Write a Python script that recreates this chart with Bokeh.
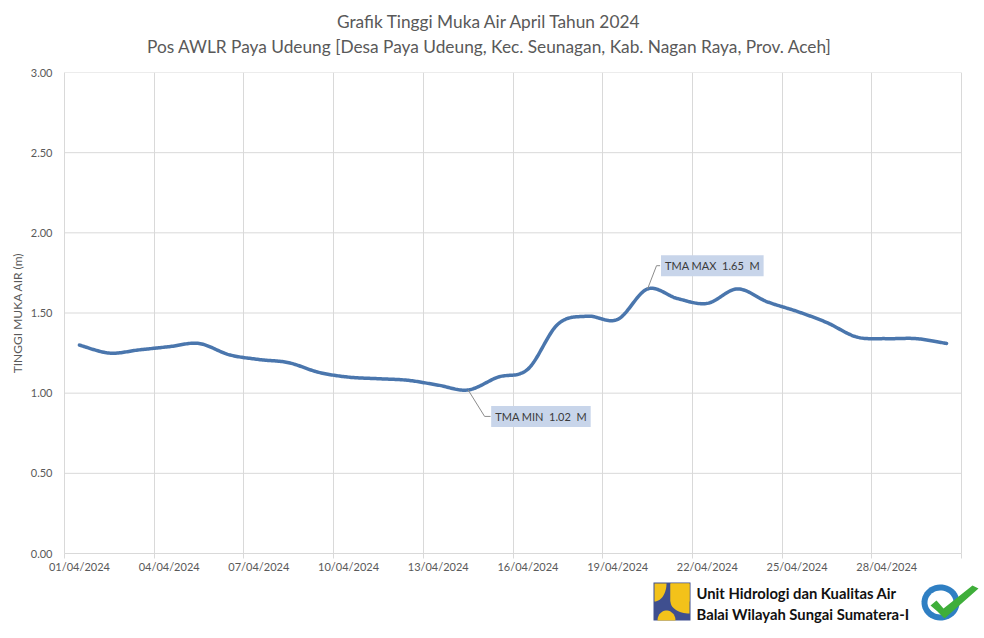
from bokeh.plotting import figure
from bokeh.layouts import column
from bokeh.models import (Range1d, FixedTicker, LinearAxis, NumeralTickFormatter, Label)
from bokeh.core.properties import value
from bokeh.embed import file_html
from bokeh.resources import INLINE
import numpy as np

# ---------------- data ----------------
dates = ["%02d/04/2024" % d for d in range(1, 31)]
values = [1.30, 1.25, 1.27, 1.29, 1.31, 1.24, 1.21, 1.19, 1.13, 1.10,
          1.09, 1.08, 1.05, 1.02, 1.10, 1.15, 1.43, 1.48, 1.46, 1.65,
          1.59, 1.56, 1.65, 1.57, 1.51, 1.44, 1.35, 1.34, 1.34, 1.31]
y_ticks = [0.0, 0.5, 1.0, 1.5, 2.0, 2.5, 3.0]
title1 = "Grafik Tinggi Muka Air April Tahun 2024"
title2 = "Pos AWLR Paya Udeung [Desa Paya Udeung, Kec. Seunagan, Kab. Nagan Raya, Prov. Aceh]"
y_label = "TINGGI MUKA AIR (m)"
footer1 = "Unit Hidrologi dan Kualitas Air"
footer2 = "Balai Wilayah Sungai Sumatera-I"

FONT = "Lato"
GRAY = "#595959"
GRID = "#d9d9d9"
LINE = "#4a76ad"
NB = "\u00a0"

W = 983
LEFT = 64            # frame left edge (px)
PLOT_W = 897         # width covered by the 30 days (px)
HEAD_H, MAIN_H, FOOT_H = 60, 520, 57

n = len(values)
xs = np.arange(n) + 0.5
ys = np.array(values)
x_end = n * (W - LEFT) / PLOT_W   # frame runs to the right edge; days occupy [0, n]

# Excel-like smoothed line (Catmull-Rom -> cubic Bezier)
px = np.concatenate([[xs[0]], xs, [xs[-1]]])
py = np.concatenate([[ys[0]], ys, [ys[-1]]])
sx, sy = [], []
t = np.linspace(0, 1, 24)
for i in range(1, n):
    p0 = np.array([px[i], py[i]]); p3 = np.array([px[i + 1], py[i + 1]])
    p1 = p0 + (np.array([px[i + 1], py[i + 1]]) - np.array([px[i - 1], py[i - 1]])) / 6
    p2 = p3 - (np.array([px[i + 2], py[i + 2]]) - np.array([px[i], py[i]])) / 6
    b = ((1 - t) ** 3)[:, None] * p0 + (3 * (1 - t) ** 2 * t)[:, None] * p1 + \
        (3 * (1 - t) * t ** 2)[:, None] * p2 + (t ** 3)[:, None] * p3
    if i > 1:
        b = b[1:]
    sx.extend(b[:, 0]); sy.extend(b[:, 1])


def blank(height, y0, y1):
    # frames get aligned with the main plot frame (LEFT..W), so x data == page px
    f = figure(width=W, height=height, x_range=Range1d(LEFT, W), y_range=Range1d(y1, y0),
               output_backend="svg", toolbar_location=None, x_axis_type=None,
               y_axis_type=None, min_border_left=LEFT, min_border_right=0,
               min_border_top=0, min_border_bottom=0)
    f.outline_line_color = None
    f.xgrid.visible = False
    f.ygrid.visible = False
    f.background_fill_color = "white"
    f.border_fill_color = "white"
    return f

# ---------------- header (titles) ----------------
head = blank(HEAD_H, 0, HEAD_H)
head.text(x=[489, 489], y=[21, 46], text=[title1, title2], text_align="center",
          text_baseline="middle", text_font=value(FONT), text_font_size=value("17.3px"),
          text_color=GRAY)

# ---------------- main chart ----------------
p = figure(width=W, height=MAIN_H, x_range=Range1d(0, x_end), y_range=Range1d(0, 3),
           output_backend="svg", toolbar_location=None,
           min_border_left=LEFT, min_border_right=0, min_border_top=72 - HEAD_H,
           min_border_bottom=HEAD_H + MAIN_H - 553)
p.outline_line_color = None
p.background_fill_color = "white"
p.border_fill_color = "white"

# y axis
p.yaxis.ticker = FixedTicker(ticks=y_ticks)
p.yaxis.formatter = NumeralTickFormatter(format="0.00")
p.yaxis.major_tick_line_color = None
p.yaxis.major_tick_out = 0
p.yaxis.major_tick_in = 0
p.yaxis.minor_tick_line_color = None
p.yaxis.axis_line_color = GRID
p.yaxis.major_label_text_color = GRAY
p.yaxis.major_label_text_font = FONT
p.yaxis.major_label_text_font_size = "11px"
p.yaxis.major_label_standoff = 12
p.yaxis.axis_label = y_label
p.yaxis.axis_label_text_font = FONT
p.yaxis.axis_label_text_font_size = "12px"
p.yaxis.axis_label_text_font_style = "normal"
p.yaxis.axis_label_text_color = GRAY
p.yaxis.axis_label_standoff = 3

# x axis: tick marks at day-group boundaries
bounds = list(range(0, n + 1, 3))
p.xaxis.ticker = FixedTicker(ticks=bounds)
p.xaxis.bounds = (0, n)
p.xaxis.major_label_overrides = {b: "" for b in bounds}
p.xaxis.major_label_text_font_size = "1px"
p.xaxis.major_label_standoff = 0
p.xaxis.major_tick_out = 5
p.xaxis.major_tick_in = 0
p.xaxis.major_tick_line_color = GRID
p.xaxis.minor_tick_line_color = None
p.xaxis.axis_line_color = GRID

# x axis: date labels centred on their day
lab_pos = [i + 0.5 for i in range(0, n, 3)]
lab_axis = LinearAxis(ticker=FixedTicker(ticks=lab_pos),
                      major_label_overrides={i + 0.5: dates[i] for i in range(0, n, 3)})
lab_axis.axis_line_color = None
lab_axis.major_tick_line_color = None
lab_axis.major_tick_out = 0
lab_axis.major_tick_in = 0
lab_axis.minor_tick_line_color = None
lab_axis.major_label_text_color = GRAY
lab_axis.major_label_text_font = FONT
lab_axis.major_label_text_font_size = "11px"
lab_axis.major_label_standoff = 1
p.add_layout(lab_axis, "below")

# grids
p.xgrid.ticker = FixedTicker(ticks=bounds)
p.xgrid.grid_line_color = GRID
p.ygrid.visible = False
p.segment(x0=[0] * len(y_ticks), x1=[n] * len(y_ticks), y0=y_ticks, y1=y_ticks,
          line_color=GRID, line_width=1, level="underlay")

# data line
p.line(sx, sy, line_color=LINE, line_width=3.5, line_join="round", line_cap="round")

# annotations: max / min
imax = int(np.argmax(ys)); imin = int(np.argmin(ys))
xmax, vmax = xs[imax], ys[imax]
xmin, vmin = xs[imin], ys[imin]
lead_col = "#8c8c8c"
p.line([xmax, xmax + 0.3, xmax + 0.42], [vmax, vmax + 0.145, vmax + 0.145],
       line_color=lead_col, line_width=1)
p.line([xmin, xmin + 0.55, xmin + 0.75], [vmin, vmin - 0.165, vmin - 0.165],
       line_color=lead_col, line_width=1)
box_fill = "#c8d5ea"
p.add_layout(Label(x=xmax + 0.45, y=vmax + 0.145,
                   text="TMA" + NB + "MAX" + NB * 2 + "%.2f" % vmax + NB * 2 + "M",
                   text_font=FONT, text_font_size="11px", text_color="#3a3a3a",
                   text_baseline="middle", background_fill_color=box_fill, padding=4))
p.add_layout(Label(x=xmin + 0.77, y=vmin - 0.165,
                   text="TMA" + NB + "MIN" + NB * 2 + "%.2f" % vmin + NB * 2 + "M",
                   text_font=FONT, text_font_size="11px", text_color="#3a3a3a",
                   text_baseline="middle", background_fill_color=box_fill, padding=4))

# ---------------- footer (logos + institution) ----------------
Y0 = HEAD_H + MAIN_H
foot = blank(FOOT_H, Y0, Y0 + FOOT_H)
foot.text(x=[696, 696], y=[592, 613], text=[footer1, footer2], text_align="left",
          text_baseline="middle", text_font=value(FONT), text_font_size=value("14.8px"),
          text_font_style="bold", text_color="#111111")

# PU logo (simplified)
BLUE, YEL = "#3f4f8f", "#f3c21a"
foot.patch([653, 690, 690, 653], [582, 582, 620, 620], fill_color=BLUE, line_color=None)
a = np.linspace(0, np.pi / 2, 16)
foot.patch([654] + list(654 + 12 * np.cos(a)) + [654],
           [583] + list(583 + 18 * np.sin(a)) + [583], fill_color=YEL, line_color=None)
b2 = np.linspace(np.pi / 2, np.pi, 16)
foot.patch([670, 689, 689] + list(689 + 19 * np.cos(b2)),
           [583, 583, 613] + list(601 + 12 * np.sin(b2)), fill_color=YEL, line_color=None)
foot.patch([670, 689, 689, 670], [583, 583, 601, 601], fill_color=YEL, line_color=None)
c = np.linspace(np.pi, 2 * np.pi, 20)
foot.patch(list(666 + 9 * np.cos(c)), list(620 + 10 * np.sin(c)), fill_color=YEL,
           line_color=None)

# ISO badge (simplified)
ca = np.linspace(0, 2 * np.pi, 48)
foot.patch(list(940 + 19 * np.cos(ca)), list(602 + 18 * np.sin(ca)), fill_color="#2f7fc3",
           line_color=None)
foot.patch(list(940 + 13 * np.cos(ca)), list(602 + 12 * np.sin(ca)), fill_color="#ffffff",
           line_color=None)
foot.patch([930, 936, 943, 972, 978, 944, 937], [605, 600, 608, 585, 588, 618, 611],
           fill_color="#3fae3a", line_color=None)

layout = column(head, p, foot, spacing=0)
open("out.html", "w").write(file_html(layout, INLINE))
